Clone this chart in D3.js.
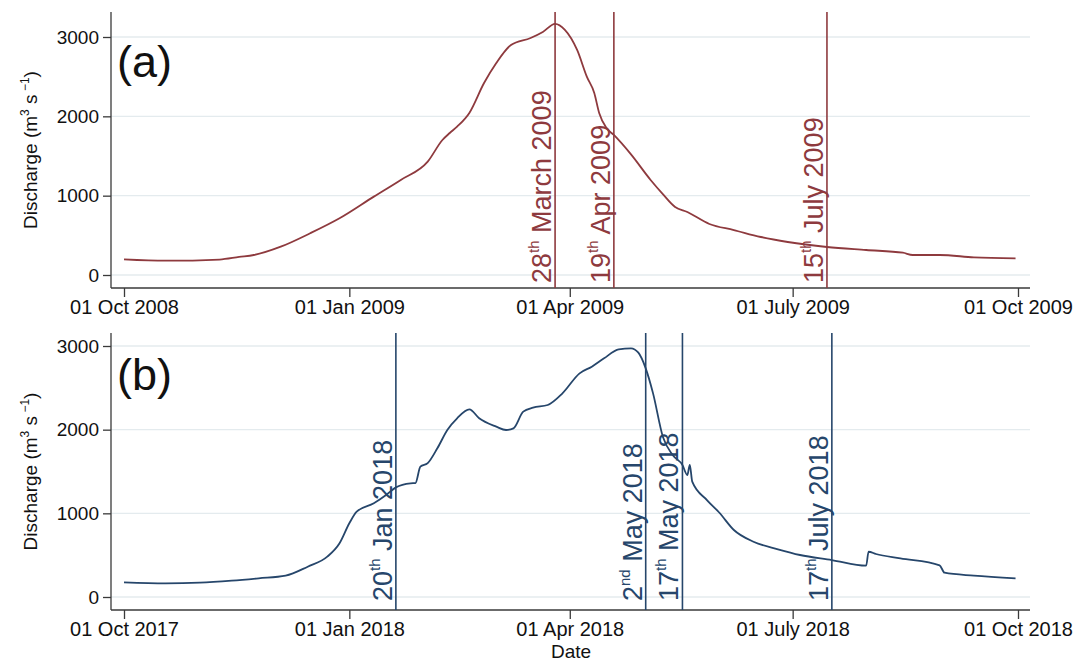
<!DOCTYPE html>
<html>
<head>
<meta charset="utf-8">
<script src="https://cdn.jsdelivr.net/npm/d3@7"></script>
<style>
  body { margin: 0; background: #fff; }
  svg { display: block; font-family: Arial, "Liberation Sans", sans-serif; }
</style>
</head>
<body>
<svg id="canvas" width="1087" height="661"></svg>
<script>
// panel (a) 2008-09 water year
let datesA = ["2008-10-01","2008-10-18","2008-11-09","2008-11-17","2008-11-23","2008-12-04",
  "2008-12-16","2008-12-28","2009-01-11","2009-01-22","2009-02-02","2009-02-08","2009-02-11",
  "2009-02-14","2009-02-19","2009-02-25","2009-03-02","2009-03-08","2009-03-16","2009-03-21",
  "2009-03-26","2009-03-30","2009-04-04","2009-04-08","2009-04-11","2009-04-13","2009-04-16",
  "2009-04-19","2009-04-26","2009-05-04","2009-05-09","2009-05-14","2009-05-19","2009-05-28",
  "2009-06-07","2009-06-18","2009-06-29","2009-07-15","2009-07-31","2009-08-15","2009-08-19",
  "2009-08-30","2009-09-13","2009-09-30"];
let flowA = [198,180,195,228,252,357,526,715,988,1198,1429,1702,1790,1870,2043,2420,2673,2900,
  2988,3064,3165,3090,2837,2497,2295,2043,1854,1765,1520,1198,1020,858,794,643,567,479,416,353,
  315,281,252,252,223,210];
let eventDatesA = ["2009-03-26","2009-04-19","2009-07-15"];
let eventSupA = ["th","th","th"];
let eventNumA = ["28","19","15"];
let eventRestA = [" March 2009"," Apr 2009"," July 2009"];
let tickDatesA = ["2008-10-01","2009-01-01","2009-04-01","2009-07-01","2009-10-01"];
let tickLabelsA = ["01 Oct 2008","01 Jan 2009","01 Apr 2009","01 July 2009","01 Oct 2009"];

// panel (b) 2017-18 water year
let datesB = ["2017-10-01","2017-10-18","2017-11-01","2017-11-14","2017-11-25","2017-12-06",
  "2017-12-15","2017-12-23","2017-12-28","2018-01-01","2018-01-04","2018-01-11","2018-01-16",
  "2018-01-20","2018-01-26","2018-01-28","2018-01-30","2018-02-02","2018-02-06","2018-02-10",
  "2018-02-14","2018-02-19","2018-02-23","2018-03-02","2018-03-06","2018-03-09","2018-03-13",
  "2018-03-17","2018-03-23","2018-03-29","2018-04-05","2018-04-10","2018-04-15","2018-04-21",
  "2018-04-26","2018-04-29","2018-05-02","2018-05-05","2018-05-09","2018-05-13","2018-05-17",
  "2018-05-19","2018-05-20","2018-05-21","2018-05-27","2018-06-01","2018-06-07","2018-06-15",
  "2018-06-25","2018-07-04","2018-07-17","2018-07-31","2018-08-01","2018-08-04","2018-08-14",
  "2018-08-30","2018-09-01","2018-09-13","2018-09-30"];
let flowB = [175,163,171,195,223,255,362,482,642,881,1020,1120,1219,1310,1359,1362,1558,1600,
  1781,1996,2136,2243,2136,2036,1996,2016,2215,2263,2295,2434,2673,2753,2853,2960,2972,2920,
  2733,2434,1916,1697,1578,1458,1578,1378,1159,1010,801,661,570,502,442,374,541,514,462,379,
  290,255,223];
let eventDatesB = ["2018-01-20","2018-05-02","2018-05-17","2018-07-17"];
let eventSupB = ["th","nd","th","th"];
let eventNumB = ["20","2","17","17"];
let eventRestB = [" Jan 2018"," May 2018"," May 2018"," July 2018"];
let tickDatesB = ["2017-10-01","2018-01-01","2018-04-01","2018-07-01","2018-10-01"];
let tickLabelsB = ["01 Oct 2017","01 Jan 2018","01 Apr 2018","01 July 2018","01 Oct 2018"];

let yTicks = [0, 1000, 2000, 3000];

let parseDate = d3.timeParse("%Y-%m-%d");
let svg = d3.select("#canvas");

let drawPanel = (p) => {
    let g = svg.append("g");
    let xScale = d3.scaleTime()
        .domain([parseDate(p.tickDates[0]), parseDate(p.tickDates[p.tickDates.length - 1])])
        .range([124, 1018]);
    let yScale = d3.scaleLinear().domain([0, 3000]).range([p.y0, p.y3000]);

    // grid
    g.selectAll(".grid")
        .data(yTicks)
        .enter()
        .append("line")
        .attr("x1", 111).attr("x2", 1030)
        .attr("y1", (d) => yScale(d)).attr("y2", (d) => yScale(d))
        .attr("stroke", "#e4ebee")
        .attr("stroke-width", 1.3);

    // y axis
    let yAxis = d3.axisLeft(yScale).tickValues(yTicks).tickFormat(d3.format("d")).tickSize(8).tickPadding(4);
    let ya = g.append("g").attr("transform", "translate(111,0)").call(yAxis);
    ya.select(".domain").attr("d", "M0," + p.top + "V" + p.bottom);
    ya.selectAll("line, path").attr("stroke", "#3a3a3a").attr("stroke-width", 1.3);
    ya.selectAll("text").attr("font-size", 19).attr("fill", "#111").attr("font-family", "Arial, 'Liberation Sans', sans-serif");

    // x axis
    let xAxis = d3.axisBottom(xScale)
        .tickValues(p.tickDates.map(parseDate))
        .tickFormat((d, i) => p.tickLabels[i])
        .tickSize(9).tickPadding(3);
    let xa = g.append("g").attr("transform", "translate(0," + p.bottom + ")").call(xAxis);
    xa.select(".domain").attr("d", "M111,0H1030");
    xa.selectAll("line, path").attr("stroke", "#3a3a3a").attr("stroke-width", 1.3);
    xa.selectAll("text").attr("font-size", 20).attr("fill", "#111").attr("font-family", "Arial, 'Liberation Sans', sans-serif");

    // discharge line
    let series = p.dates.map((d, i) => ({ date: parseDate(d), value: p.flow[i] }));
    g.append("path")
        .datum(series)
        .attr("fill", "none")
        .attr("stroke", p.color)
        .attr("stroke-width", 1.8)
        .attr("stroke-linejoin", "round")
        .attr("d", d3.line().curve(d3.curveMonotoneX).x((d) => xScale(d.date)).y((d) => yScale(d.value)));

    // event lines and labels
    p.eventDates.forEach((ed, i) => {
        let ex = xScale(parseDate(ed));
        g.append("line")
            .attr("x1", ex).attr("x2", ex)
            .attr("y1", p.top).attr("y2", p.bottom)
            .attr("stroke", p.color)
            .attr("stroke-width", 1.6);
        let t = g.append("text")
            .attr("transform", "translate(" + (ex - 4) + "," + (p.bottom - p.labelGap) + ") rotate(-90)")
            .attr("fill", p.color)
            .attr("font-size", 27);
        t.append("tspan").text(p.eventNum[i]);
        t.append("tspan").attr("font-size", 15).attr("dy", -12).text(p.eventSup[i]);
        t.append("tspan").attr("dy", 12).text(p.eventRest[i]);
    });

    // panel letter
    g.append("text")
        .attr("x", 117).attr("y", p.letterY)
        .attr("font-size", 45)
        .attr("fill", "#111")
        .text(p.letter);

    // y title
    let yt = g.append("text")
        .attr("transform", "translate(37," + ((p.top + p.bottom) / 2) + ") rotate(-90)")
        .attr("text-anchor", "middle")
        .attr("font-size", 19)
        .attr("fill", "#111");
    yt.append("tspan").text("Discharge (m");
    yt.append("tspan").attr("font-size", 12).attr("dy", -8).text("3");
    yt.append("tspan").attr("dy", 8).text(" s");
    yt.append("tspan").attr("font-size", 12).attr("dy", -8).text(" \u22121");
    yt.append("tspan").attr("dy", 8).text(")");
};

drawPanel({
    dates: datesA, flow: flowA, color: "#8e3a3e",
    eventDates: eventDatesA, eventSup: eventSupA, eventNum: eventNumA, eventRest: eventRestA,
    tickDates: tickDatesA, tickLabels: tickLabelsA,
    top: 12, bottom: 288, y0: 275, y3000: 37, letter: "(a)", letterY: 77, labelGap: 5
});

drawPanel({
    dates: datesB, flow: flowB, color: "#26466b",
    eventDates: eventDatesB, eventSup: eventSupB, eventNum: eventNumB, eventRest: eventRestB,
    tickDates: tickDatesB, tickLabels: tickLabelsB,
    top: 333, bottom: 610, y0: 597, y3000: 346, letter: "(b)", letterY: 390, labelGap: 9
});

svg.append("text")
    .attr("x", 571).attr("y", 658)
    .attr("text-anchor", "middle")
    .attr("font-size", 19)
    .attr("fill", "#111")
    .text("Date");
</script>
</body>
</html>
